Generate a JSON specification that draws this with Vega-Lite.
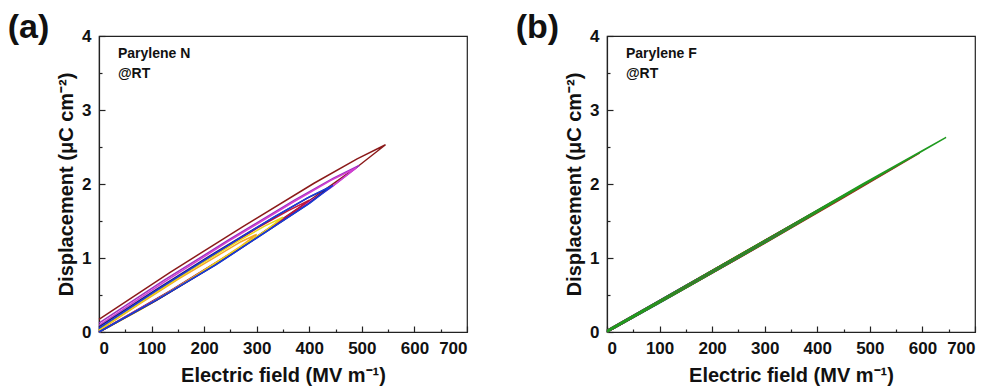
{
  "$schema": "https://vega.github.io/schema/vega-lite/v6.json",
  "padding": {"left": 7, "top": 10, "right": 5, "bottom": 2},
  "background": "white",
  "datasets": {
    "a": [
      {"loop": "a8", "i": 0, "E": 0, "D": 0}, {"loop": "a8", "i": 1, "E": 136, "D": 0.56}, {"loop": "a8", "i": 2, "E": 273, "D": 1.16}, {"loop": "a8", "i": 3, "E": 409, "D": 1.82}, {"loop": "a8", "i": 4, "E": 491, "D": 2.23}, {"loop": "a8", "i": 5, "E": 545, "D": 2.53}, {"loop": "a8", "i": 6, "E": 491, "D": 2.34}, {"loop": "a8", "i": 7, "E": 409, "D": 2.01}, {"loop": "a8", "i": 8, "E": 273, "D": 1.42}, {"loop": "a8", "i": 9, "E": 136, "D": 0.81}, {"loop": "a8", "i": 10, "E": 0, "D": 0.17},
      {"loop": "a7", "i": 0, "E": 0, "D": 0}, {"loop": "a7", "i": 1, "E": 124, "D": 0.50}, {"loop": "a7", "i": 2, "E": 248, "D": 1.04}, {"loop": "a7", "i": 3, "E": 371, "D": 1.62}, {"loop": "a7", "i": 4, "E": 446, "D": 1.98}, {"loop": "a7", "i": 5, "E": 495, "D": 2.25}, {"loop": "a7", "i": 6, "E": 446, "D": 2.08}, {"loop": "a7", "i": 7, "E": 371, "D": 1.78}, {"loop": "a7", "i": 8, "E": 248, "D": 1.25}, {"loop": "a7", "i": 9, "E": 124, "D": 0.70}, {"loop": "a7", "i": 10, "E": 0, "D": 0.12},
      {"loop": "a6", "i": 0, "E": 0, "D": 0}, {"loop": "a6", "i": 1, "E": 123, "D": 0.49}, {"loop": "a6", "i": 2, "E": 245, "D": 1.02}, {"loop": "a6", "i": 3, "E": 368, "D": 1.60}, {"loop": "a6", "i": 4, "E": 441, "D": 1.95}, {"loop": "a6", "i": 5, "E": 490, "D": 2.22}, {"loop": "a6", "i": 6, "E": 441, "D": 2.05}, {"loop": "a6", "i": 7, "E": 368, "D": 1.75}, {"loop": "a6", "i": 8, "E": 245, "D": 1.22}, {"loop": "a6", "i": 9, "E": 123, "D": 0.67}, {"loop": "a6", "i": 10, "E": 0, "D": 0.09},
      {"loop": "a5", "i": 0, "E": 0, "D": 0}, {"loop": "a5", "i": 1, "E": 100, "D": 0.39}, {"loop": "a5", "i": 2, "E": 200, "D": 0.82}, {"loop": "a5", "i": 3, "E": 300, "D": 1.28}, {"loop": "a5", "i": 4, "E": 360, "D": 1.57}, {"loop": "a5", "i": 5, "E": 400, "D": 1.78}, {"loop": "a5", "i": 6, "E": 360, "D": 1.64}, {"loop": "a5", "i": 7, "E": 300, "D": 1.40}, {"loop": "a5", "i": 8, "E": 200, "D": 0.96}, {"loop": "a5", "i": 9, "E": 100, "D": 0.50}, {"loop": "a5", "i": 10, "E": 0, "D": 0.03},
      {"loop": "a4", "i": 0, "E": 0, "D": 0}, {"loop": "a4", "i": 1, "E": 75, "D": 0.29}, {"loop": "a4", "i": 2, "E": 150, "D": 0.61}, {"loop": "a4", "i": 3, "E": 225, "D": 0.95}, {"loop": "a4", "i": 4, "E": 270, "D": 1.16}, {"loop": "a4", "i": 5, "E": 300, "D": 1.32}, {"loop": "a4", "i": 6, "E": 270, "D": 1.22}, {"loop": "a4", "i": 7, "E": 225, "D": 1.03}, {"loop": "a4", "i": 8, "E": 150, "D": 0.71}, {"loop": "a4", "i": 9, "E": 75, "D": 0.37}, {"loop": "a4", "i": 10, "E": 0, "D": 0.02},
      {"loop": "a3", "i": 0, "E": 0, "D": 0}, {"loop": "a3", "i": 1, "E": 88, "D": 0.34}, {"loop": "a3", "i": 2, "E": 175, "D": 0.71}, {"loop": "a3", "i": 3, "E": 263, "D": 1.12}, {"loop": "a3", "i": 4, "E": 315, "D": 1.36}, {"loop": "a3", "i": 5, "E": 350, "D": 1.55}, {"loop": "a3", "i": 6, "E": 315, "D": 1.43}, {"loop": "a3", "i": 7, "E": 263, "D": 1.22}, {"loop": "a3", "i": 8, "E": 175, "D": 0.84}, {"loop": "a3", "i": 9, "E": 88, "D": 0.44}, {"loop": "a3", "i": 10, "E": 0, "D": 0.03},
      {"loop": "a2", "i": 0, "E": 0, "D": 0}, {"loop": "a2", "i": 1, "E": 110, "D": 0.43}, {"loop": "a2", "i": 2, "E": 220, "D": 0.90}, {"loop": "a2", "i": 3, "E": 330, "D": 1.41}, {"loop": "a2", "i": 4, "E": 396, "D": 1.72}, {"loop": "a2", "i": 5, "E": 440, "D": 1.96}, {"loop": "a2", "i": 6, "E": 396, "D": 1.81}, {"loop": "a2", "i": 7, "E": 330, "D": 1.54}, {"loop": "a2", "i": 8, "E": 220, "D": 1.07}, {"loop": "a2", "i": 9, "E": 110, "D": 0.58}, {"loop": "a2", "i": 10, "E": 0, "D": 0.07},
      {"loop": "a1", "i": 0, "E": 0, "D": 0}, {"loop": "a1", "i": 1, "E": 111, "D": 0.44}, {"loop": "a1", "i": 2, "E": 223, "D": 0.91}, {"loop": "a1", "i": 3, "E": 334, "D": 1.43}, {"loop": "a1", "i": 4, "E": 401, "D": 1.74}, {"loop": "a1", "i": 5, "E": 445, "D": 1.98}, {"loop": "a1", "i": 6, "E": 401, "D": 1.83}, {"loop": "a1", "i": 7, "E": 334, "D": 1.56}, {"loop": "a1", "i": 8, "E": 223, "D": 1.07}, {"loop": "a1", "i": 9, "E": 111, "D": 0.57}, {"loop": "a1", "i": 10, "E": 0, "D": 0.05}
    ],
    "b": [
      {"loop": "b8", "i": 0, "E": 0, "D": 0}, {"loop": "b8", "i": 1, "E": 75, "D": 0.30}, {"loop": "b8", "i": 2, "E": 150, "D": 0.61}, {"loop": "b8", "i": 3, "E": 225, "D": 0.91}, {"loop": "b8", "i": 4, "E": 300, "D": 1.22}, {"loop": "b8", "i": 5, "E": 225, "D": 0.93}, {"loop": "b8", "i": 6, "E": 150, "D": 0.63}, {"loop": "b8", "i": 7, "E": 75, "D": 0.32}, {"loop": "b8", "i": 8, "E": 0, "D": 0.01},
      {"loop": "b7", "i": 0, "E": 0, "D": 0}, {"loop": "b7", "i": 1, "E": 88, "D": 0.35}, {"loop": "b7", "i": 2, "E": 175, "D": 0.71}, {"loop": "b7", "i": 3, "E": 263, "D": 1.07}, {"loop": "b7", "i": 4, "E": 350, "D": 1.43}, {"loop": "b7", "i": 5, "E": 263, "D": 1.09}, {"loop": "b7", "i": 6, "E": 175, "D": 0.73}, {"loop": "b7", "i": 7, "E": 88, "D": 0.37}, {"loop": "b7", "i": 8, "E": 0, "D": 0.01},
      {"loop": "b6", "i": 0, "E": 0, "D": 0}, {"loop": "b6", "i": 1, "E": 100, "D": 0.39}, {"loop": "b6", "i": 2, "E": 200, "D": 0.80}, {"loop": "b6", "i": 3, "E": 300, "D": 1.21}, {"loop": "b6", "i": 4, "E": 400, "D": 1.63}, {"loop": "b6", "i": 5, "E": 300, "D": 1.23}, {"loop": "b6", "i": 6, "E": 200, "D": 0.83}, {"loop": "b6", "i": 7, "E": 100, "D": 0.42}, {"loop": "b6", "i": 8, "E": 0, "D": 0.01},
      {"loop": "b5", "i": 0, "E": 0, "D": 0}, {"loop": "b5", "i": 1, "E": 113, "D": 0.45}, {"loop": "b5", "i": 2, "E": 225, "D": 0.91}, {"loop": "b5", "i": 3, "E": 338, "D": 1.37}, {"loop": "b5", "i": 4, "E": 450, "D": 1.84}, {"loop": "b5", "i": 5, "E": 338, "D": 1.39}, {"loop": "b5", "i": 6, "E": 225, "D": 0.93}, {"loop": "b5", "i": 7, "E": 113, "D": 0.47}, {"loop": "b5", "i": 8, "E": 0, "D": 0.01},
      {"loop": "b4", "i": 0, "E": 0, "D": 0}, {"loop": "b4", "i": 1, "E": 125, "D": 0.50}, {"loop": "b4", "i": 2, "E": 250, "D": 1.00}, {"loop": "b4", "i": 3, "E": 375, "D": 1.52}, {"loop": "b4", "i": 4, "E": 500, "D": 2.04}, {"loop": "b4", "i": 5, "E": 375, "D": 1.54}, {"loop": "b4", "i": 6, "E": 250, "D": 1.03}, {"loop": "b4", "i": 7, "E": 125, "D": 0.53}, {"loop": "b4", "i": 8, "E": 0, "D": 0.02},
      {"loop": "b3", "i": 0, "E": 0, "D": 0}, {"loop": "b3", "i": 1, "E": 138, "D": 0.55}, {"loop": "b3", "i": 2, "E": 275, "D": 1.10}, {"loop": "b3", "i": 3, "E": 413, "D": 1.67}, {"loop": "b3", "i": 4, "E": 550, "D": 2.24}, {"loop": "b3", "i": 5, "E": 413, "D": 1.69}, {"loop": "b3", "i": 6, "E": 275, "D": 1.13}, {"loop": "b3", "i": 7, "E": 138, "D": 0.58}, {"loop": "b3", "i": 8, "E": 0, "D": 0.02},
      {"loop": "b2", "i": 0, "E": 0, "D": 0}, {"loop": "b2", "i": 1, "E": 149, "D": 0.59}, {"loop": "b2", "i": 2, "E": 298, "D": 1.19}, {"loop": "b2", "i": 3, "E": 446, "D": 1.80}, {"loop": "b2", "i": 4, "E": 595, "D": 2.42}, {"loop": "b2", "i": 5, "E": 446, "D": 1.83}, {"loop": "b2", "i": 6, "E": 298, "D": 1.23}, {"loop": "b2", "i": 7, "E": 149, "D": 0.62}, {"loop": "b2", "i": 8, "E": 0, "D": 0.02},
      {"loop": "b1", "i": 0, "E": 0, "D": 0}, {"loop": "b1", "i": 1, "E": 161, "D": 0.64}, {"loop": "b1", "i": 2, "E": 323, "D": 1.30}, {"loop": "b1", "i": 3, "E": 484, "D": 1.97}, {"loop": "b1", "i": 4, "E": 645, "D": 2.63}, {"loop": "b1", "i": 5, "E": 484, "D": 1.99}, {"loop": "b1", "i": 6, "E": 323, "D": 1.33}, {"loop": "b1", "i": 7, "E": 161, "D": 0.67}, {"loop": "b1", "i": 8, "E": 0, "D": 0.02}
    ]
  },
  "spacing": 140,
  "bounds": "flush",
  "resolve": {"scale": {"color": "independent"}},
  "hconcat": [
    {
      "width": 368,
      "height": 296,
      "layer": [
        {
          "data": {"name": "a"},
          "mark": {"type": "line", "strokeWidth": 1.5},
          "encoding": {
            "x": {"field": "E", "type": "quantitative", "scale": {"domain": [0, 700], "nice": false}, "title": "Electric field (MV m⁻¹)"},
            "y": {"field": "D", "type": "quantitative", "scale": {"domain": [0, 4], "nice": false}, "title": "Displacement (μC cm⁻²)"},
            "color": {"field": "loop", "type": "nominal", "legend": null, "scale": {"domain": ["a8", "a7", "a6", "a5", "a4", "a3", "a2", "a1"], "range": ["#8b1a1a", "#9b30c0", "#d040d0", "#c0143c", "#f5a623", "#e8d81a", "#1a1a7a", "#1a3cd8"]}},
            "order": {"field": "i", "type": "quantitative"}
          }
        },
        {
          "data": {"values": [{}]},
          "mark": {"type": "text", "text": "Parylene N", "align": "left", "baseline": "middle", "font": "Liberation Sans", "fontWeight": "bold", "fontSize": 14, "color": "#111"},
          "encoding": {"x": {"datum": 36, "type": "quantitative"}, "y": {"datum": 3.76, "type": "quantitative"}}
        },
        {
          "data": {"values": [{}]},
          "mark": {"type": "text", "text": "@RT", "align": "left", "baseline": "middle", "font": "Liberation Sans", "fontWeight": "bold", "fontSize": 14, "color": "#111"},
          "encoding": {"x": {"datum": 36, "type": "quantitative"}, "y": {"datum": 3.48, "type": "quantitative"}}
        },
        {
          "data": {"values": [{}]},
          "mark": {"type": "text", "text": "(a)", "align": "left", "baseline": "middle", "font": "Liberation Sans", "fontWeight": "bold", "fontSize": 34, "color": "#111"},
          "encoding": {"x": {"datum": -173.6, "type": "quantitative"}, "y": {"datum": 4.11, "type": "quantitative"}}
        }
      ]
    },
    {
      "width": 368,
      "height": 296,
      "layer": [
        {
          "data": {"name": "b"},
          "mark": {"type": "line", "strokeWidth": 1.5},
          "encoding": {
            "x": {"field": "E", "type": "quantitative", "scale": {"domain": [0, 700], "nice": false}, "title": "Electric field (MV m⁻¹)"},
            "y": {"field": "D", "type": "quantitative", "scale": {"domain": [0, 4], "nice": false}, "title": "Displacement (μC cm⁻²)"},
            "color": {"field": "loop", "type": "nominal", "legend": null, "scale": {"domain": ["b8", "b7", "b6", "b5", "b4", "b3", "b2", "b1"], "range": ["#6b7a10", "#e08a20", "#20d0d0", "#111111", "#1a2aa0", "#8a2aa0", "#a0301a", "#1f9a1f"]}},
            "order": {"field": "i", "type": "quantitative"}
          }
        },
        {
          "data": {"values": [{}]},
          "mark": {"type": "text", "text": "Parylene F", "align": "left", "baseline": "middle", "font": "Liberation Sans", "fontWeight": "bold", "fontSize": 14, "color": "#111"},
          "encoding": {"x": {"datum": 36, "type": "quantitative"}, "y": {"datum": 3.76, "type": "quantitative"}}
        },
        {
          "data": {"values": [{}]},
          "mark": {"type": "text", "text": "@RT", "align": "left", "baseline": "middle", "font": "Liberation Sans", "fontWeight": "bold", "fontSize": 14, "color": "#111"},
          "encoding": {"x": {"datum": 36, "type": "quantitative"}, "y": {"datum": 3.48, "type": "quantitative"}}
        },
        {
          "data": {"values": [{}]},
          "mark": {"type": "text", "text": "(b)", "align": "left", "baseline": "middle", "font": "Liberation Sans", "fontWeight": "bold", "fontSize": 34, "color": "#111"},
          "encoding": {"x": {"datum": -173.6, "type": "quantitative"}, "y": {"datum": 4.11, "type": "quantitative"}}
        }
      ]
    }
  ],
  "config": {
    "view": {"stroke": "#222", "strokeWidth": 1.2},
    "axisX": {
      "values": [0, 50, 100, 150, 200, 250, 300, 350, 400, 450, 500, 550, 600, 650, 700],
      "format": "d",
      "labelExpr": "datum.value % 100 == 0 ? datum.label : ''",
      "tickSize": {"condition": {"test": "datum.value % 100 == 0", "value": -6}, "value": -3},
      "labelPadding": 14,
      "titlePadding": 6
    },
    "axisY": {
      "values": [0, 0.5, 1, 1.5, 2, 2.5, 3, 3.5, 4],
      "format": "d",
      "labelExpr": "datum.value % 1 == 0 ? datum.label : ''",
      "tickSize": {"condition": {"test": "datum.value % 1 == 0", "value": -6}, "value": -3},
      "labelPadding": 14,
      "titlePadding": 5
    },
    "axis": {
      "grid": false,
      "domainColor": "#222",
      "domainWidth": 1.2,
      "tickColor": "#222",
      "tickWidth": 1.2,
      "labelFont": "Liberation Sans",
      "labelFontWeight": "bold",
      "labelFontSize": 17,
      "labelColor": "#111",
      "labelOverlap": false,
      "titleFont": "Liberation Sans",
      "titleFontWeight": "bold",
      "titleFontSize": 20,
      "titleColor": "#111"
    }
  }
}
